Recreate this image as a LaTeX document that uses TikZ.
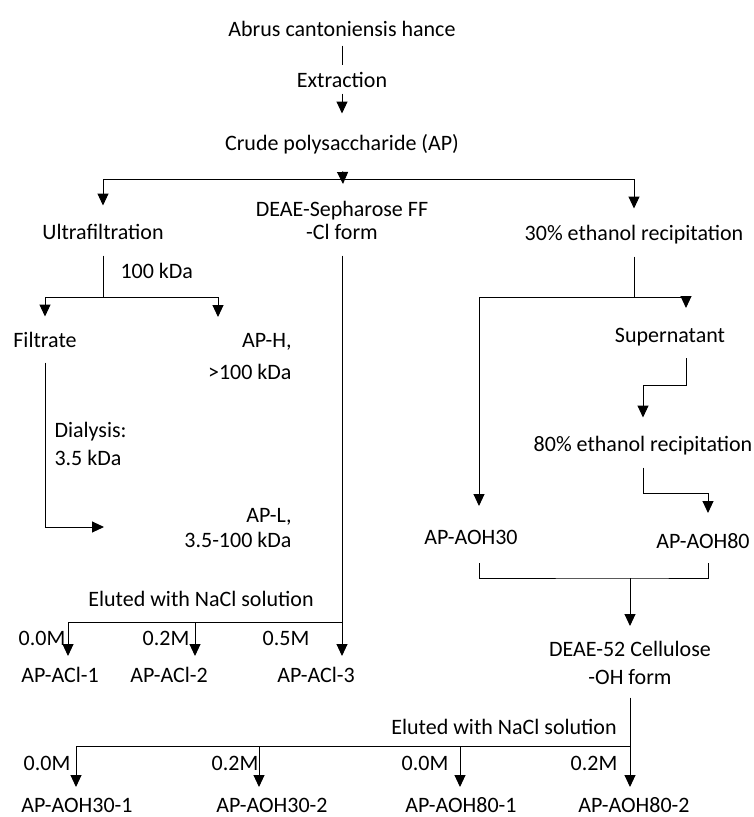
\documentclass[tikz,border=0pt]{standalone}
\usepackage{fontspec}
\setmainfont{Carlito}
\usetikzlibrary{arrows.meta}

\begin{document}
\begin{tikzpicture}[x=1pt, y=-1pt, line width=1pt,
		txt/.style={inner sep=0pt, anchor=base, font=\fontsize{22}{23}\selectfont, text height=15pt, text depth=4pt},
		mtxt/.style={inner sep=0pt, anchor=base, font=\fontsize{22}{23}\selectfont},
		arr/.style={-{Triangle[length=12pt,width=11pt]}}]
		\useasboundingbox (0,0) rectangle (753,817);
		
		% Coordinates
		\coordinate (C_top) at (343,184);
		\coordinate (C_split) at (343,179);
		\coordinate (UF_J) at (103,297);
		\coordinate (APH_T) at (218,317);
		\coordinate (APL_T) at (104,527);
		\coordinate (DS_J) at (342,622);
		\coordinate (ACl1_T) at (68,656);
		\coordinate (ACl2_T) at (195,656);
		\coordinate (ACl3_T) at (342,656);
		\coordinate (E30_J) at (634,297);
		\coordinate (SUP_T) at (686,308);
		\coordinate (SUP_O) at (686,358);
		\coordinate (SUP_B) at (643,385);
		\coordinate (E80_B) at (708,493);
		\coordinate (AOH80_T) at (708,513);
		\coordinate (AOH30_T) at (479,506);
		\coordinate (M_L) at (479,563);
		\coordinate (M_R) at (708,563);
		\coordinate (M_C) at (630,578);
		\coordinate (D52_T) at (630,626);
		\coordinate (D52_J) at (630,746);
		\coordinate (O301_T) at (76,787);
		\coordinate (O302_T) at (259,787);
		\coordinate (O801_T) at (460,787);
		\coordinate (O802_T) at (630,787);
		
		% Steps
		\node[txt] (abrus) at (342,36) {Abrus cantoniensis hance};
		\node[txt] (extr) at (342,87) {Extraction};
		\node[txt] (AP) at (342,150) {Crude polysaccharide (AP)};
		\node[txt] (UF) at (103,239) {Ultrafiltration};
		\node[mtxt, align=center] (DS) at (342,239) {DEAE-Sepharose FF\\-Cl form};
		\node[txt] (E30) at (634,240) {30\% ethanol recipitation};
		\node[txt, anchor=base west] (kDa) at (120,278) {100 kDa};
		\node[txt] (filt) at (45,347) {Filtrate};
		\node[mtxt, anchor=base east, align=right] (APH) at (292,379) {AP-H,\\[9pt]>100 kDa};
		\node[txt] (sup) at (670,342) {Supernatant};
		\node[mtxt, anchor=base west, align=left] (dial) at (54,465) {Dialysis:\\[5pt]3.5 kDa};
		\node[txt] (E80) at (643,451) {80\% ethanol recipitation};
		\node[mtxt, anchor=base east, align=right] (APL) at (292,547) {AP-L,\\[2pt]3.5-100 kDa};
		\node[txt] (AOH30) at (471,544) {AP-AOH30};
		\node[txt] (AOH80) at (703,548) {AP-AOH80};
		\node[mtxt, align=center] (D52) at (630,684) {DEAE-52 Cellulose\\[5pt]-OH form};
		
		% Elution, Cl form
		\node[txt] (elA) at (201,606) {Eluted with NaCl solution};
		\node[txt] (mA1) at (42,645) {0.0M};
		\node[txt] (mA2) at (166,645) {0.2M};
		\node[txt] (mA3) at (286,645) {0.5M};
		\node[txt] (ACl1) at (60,682) {AP-ACl-1};
		\node[txt] (ACl2) at (169,682) {AP-ACl-2};
		\node[txt] (ACl3) at (316,682) {AP-ACl-3};
		
		% Elution, OH form
		\node[txt] (elB) at (504,734) {Eluted with NaCl solution};
		\node[txt] (mB1) at (47,770) {0.0M};
		\node[txt] (mB2) at (235,770) {0.2M};
		\node[txt] (mB3) at (425,770) {0.0M};
		\node[txt] (mB4) at (594,770) {0.2M};
		\node[txt] (O301) at (77,812) {AP-AOH30-1};
		\node[txt] (O302) at (272,812) {AP-AOH30-2};
		\node[txt] (O801) at (461,812) {AP-AOH80-1};
		\node[txt] (O802) at (634,812) {AP-AOH80-2};
		
		% Top chain
		\draw[shorten <=5pt, shorten >=7pt] (abrus.south) -- (extr.north);
		\draw[arr, shorten <=2pt, shorten >=21pt] (extr.south) -- (AP.north);
		\draw[arr, shorten <=17pt] (AP.south) -- (C_top);
		\draw[arr, shorten >=18pt] (C_split) -| (UF.north);
		\draw[arr, shorten >=16pt] (C_split) -| (E30.north);
		
		% Ultrafiltration
		\draw[shorten <=12pt] (UF.south) -- (UF_J);
		\draw[arr, shorten >=15pt] (UF_J) -| (filt.north);
		\draw[arr] (UF_J) -| (APH_T);
		\draw[arr, shorten <=11pt] (filt.south) |- (APL_T);
		
		% DEAE-Sepharose
		\draw[shorten <=16pt] (DS.south) -- (DS_J);
		\draw[arr] (DS_J) -| (ACl1_T);
		\draw[arr] (DS_J) -| (ACl2_T);
		\draw[arr] (DS_J) -- (ACl3_T);
		
		% Ethanol
		\draw[shorten <=12pt] (E30.south) -- (E30_J);
		\draw[arr] (E30_J) -| (SUP_T);
		\draw[arr] (E30_J) -| (AOH30_T);
		\draw[arr, shorten >=18pt] (SUP_O) |- (SUP_B) -- (E80.north);
		\draw[arr, shorten <=12pt] (E80.south) |- (E80_B) -- (AOH80_T);
		\draw (M_L) |- (M_C) -| (M_R);
		\draw[arr] (M_C) -- (D52_T);
		
		% DEAE-52
		\draw[shorten <=13pt] (D52.south) -- (D52_J);
		\draw[arr] (D52_J) -| (O301_T);
		\draw[arr] (D52_J) -| (O302_T);
		\draw[arr] (D52_J) -| (O801_T);
		\draw[arr] (D52_J) -- (O802_T);
	\end{tikzpicture}
\end{document}
